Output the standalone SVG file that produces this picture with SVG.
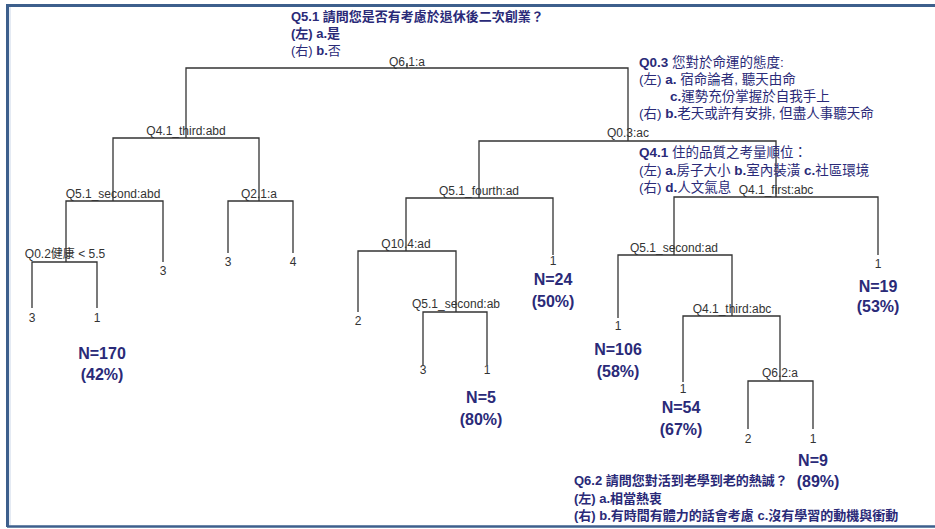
<svg xmlns="http://www.w3.org/2000/svg" width="935" height="529" viewBox="0 0 935 529">
<style>
.edge{stroke:#333;stroke-width:1.3;fill:none}
.lbl{font-family:"Liberation Sans","Noto Sans CJK TC",sans-serif;font-size:12px;fill:#333;text-anchor:middle}
.n{font-family:"Liberation Sans",sans-serif;font-size:16px;font-weight:bold;fill:#2a2a78;text-anchor:middle}
.q{font-family:"Liberation Sans","Noto Sans CJK TC",sans-serif;font-size:13px;fill:#2a2a78}
.q2{font-size:13.5px}
.b{font-weight:bold}
.frame{stroke:#3d5f8c;stroke-width:3;fill:none}
</style>
<rect width="935" height="529" fill="#fff"/>
<g id="frame">
<path class="frame" d="M935,5.5 H7.5 V527"/>
<line x1="7" y1="526.5" x2="935" y2="526.5" stroke="#3d5f8c" stroke-width="2.5"/>
<line x1="10" y1="7" x2="10" y2="525" stroke="#c9d6e8" stroke-width="1"/>
</g>
<g id="connectors">
<path class="edge" d="M407,63 V68"/>
<path class="edge" d="M186,138 V68 H628 V141"/>
<path class="edge" d="M113,201 V138 H259 V201"/>
<path class="edge" d="M66,262 V201 H163 V262"/>
<path class="edge" d="M228,253 V201 H293 V253"/>
<path class="edge" d="M32,308 V262 H97 V308"/>
<path class="edge" d="M479,198 V141 H776 V197"/>
<path class="edge" d="M406,251 V198 H553 V255"/>
<path class="edge" d="M358,312 V251 H456 V312"/>
<path class="edge" d="M423,365 V312 H487 V365"/>
<path class="edge" d="M674,255 V197 H878 V255"/>
<path class="edge" d="M618,318 V255 H732 V316"/>
<path class="edge" d="M683,382 V316 H780 V381"/>
<path class="edge" d="M748,429 V381 H813 V429"/>
</g>
<g id="n_root"><text class="lbl" x="407" y="66">Q6.1:a</text></g>
<g id="n_q41third_abd"><text class="lbl" x="186" y="135">Q4.1_third:abd</text></g>
<g id="n_q51second_abd"><text class="lbl" x="113" y="198">Q5.1_second:abd</text></g>
<g id="n_q21"><text class="lbl" x="259" y="198">Q2.1:a</text></g>
<g id="n_q02"><text class="lbl" x="65" y="258">Q0.2健康 &lt; 5.5</text></g>
<g id="leaf_l1"><text class="lbl" x="32" y="322">3</text></g>
<g id="leaf_l2"><text class="lbl" x="97" y="322">1</text><text class="n" x="102" y="359">N=170</text><text class="n" x="102" y="380">(42%)</text></g>
<g id="leaf_l3"><text class="lbl" x="163" y="275">3</text></g>
<g id="leaf_l4"><text class="lbl" x="228" y="266">3</text></g>
<g id="leaf_l5"><text class="lbl" x="293" y="266">4</text></g>
<g id="n_q03"><text class="lbl" x="628" y="137">Q0.3:ac</text></g>
<g id="n_q51fourth"><text class="lbl" x="479" y="195">Q5.1_fourth:ad</text></g>
<g id="n_q104"><text class="lbl" x="406" y="248">Q10.4:ad</text></g>
<g id="leaf_m1"><text class="lbl" x="358" y="325">2</text></g>
<g id="n_q51second_ab"><text class="lbl" x="456" y="308">Q5.1_second:ab</text></g>
<g id="leaf_m2"><text class="lbl" x="423" y="374">3</text></g>
<g id="leaf_m3"><text class="lbl" x="487" y="374">1</text><text class="n" x="481" y="403">N=5</text><text class="n" x="481" y="425">(80%)</text></g>
<g id="leaf_m4"><text class="lbl" x="553" y="265">1</text><text class="n" x="553" y="285">N=24</text><text class="n" x="553" y="307">(50%)</text></g>
<g id="n_q41first"><text class="lbl" x="776" y="194">Q4.1_first:abc</text></g>
<g id="n_q51second_ad"><text class="lbl" x="674" y="252">Q5.1_second:ad</text></g>
<g id="leaf_r1"><text class="lbl" x="618" y="330">1</text><text class="n" x="618" y="355">N=106</text><text class="n" x="618" y="377">(58%)</text></g>
<g id="n_q41third_abc"><text class="lbl" x="732" y="313">Q4.1_third:abc</text></g>
<g id="leaf_r2"><text class="lbl" x="683" y="393">1</text><text class="n" x="681" y="413">N=54</text><text class="n" x="681" y="435">(67%)</text></g>
<g id="n_q62"><text class="lbl" x="780" y="377">Q6.2:a</text></g>
<g id="leaf_r3"><text class="lbl" x="748" y="443">2</text></g>
<g id="leaf_r4"><text class="lbl" x="813" y="443">1</text><text class="n" x="813" y="466">N=9</text><text class="n" x="818" y="487">(89%)</text></g>
<g id="leaf_r5"><text class="lbl" x="878" y="268">1</text><text class="n" x="878" y="292">N=19</text><text class="n" x="878" y="312">(53%)</text></g>
<g id="note_q51">
<text class="q b" x="291" y="21">Q5.1 請問您是否有考慮於退休後二次創業？</text>
<text class="q b" x="291" y="38">(左) a.是</text>
<text class="q" x="291" y="55">(右) <tspan class="b">b.</tspan>否</text>
</g>
<g id="note_q03">
<text class="q q2" x="639" y="67"><tspan class="b">Q0.3</tspan> 您對於命運的態度:</text>
<text class="q q2" x="639" y="84">(左) <tspan class="b">a.</tspan> 宿命論者, 聽天由命</text>
<text class="q q2" x="670" y="101"><tspan class="b">c.</tspan>運勢充份掌握於自我手上</text>
<text class="q q2" x="639" y="118">(右) <tspan class="b">b.</tspan>老天或許有安排, 但盡人事聽天命</text>
</g>
<g id="note_q41">
<text class="q q2" x="639" y="157"><tspan class="b">Q4.1</tspan> 住的品質之考量順位：</text>
<text class="q q2" x="639" y="175">(左) <tspan class="b">a.</tspan>房子大小 <tspan class="b">b.</tspan>室內裝潢 <tspan class="b">c.</tspan>社區環境</text>
<text class="q q2" x="639" y="192">(右) <tspan class="b">d.</tspan>人文氣息</text>
</g>
<g id="note_q62">
<text class="q b" x="574" y="485">Q6.2 請問您對活到老學到老的熱誠？</text>
<text class="q b" x="574" y="503">(左) a.相當熱衷</text>
<text class="q b" x="574" y="520">(右) b.有時間有體力的話會考慮 c.沒有學習的動機與衝動</text>
</g>
</svg>
